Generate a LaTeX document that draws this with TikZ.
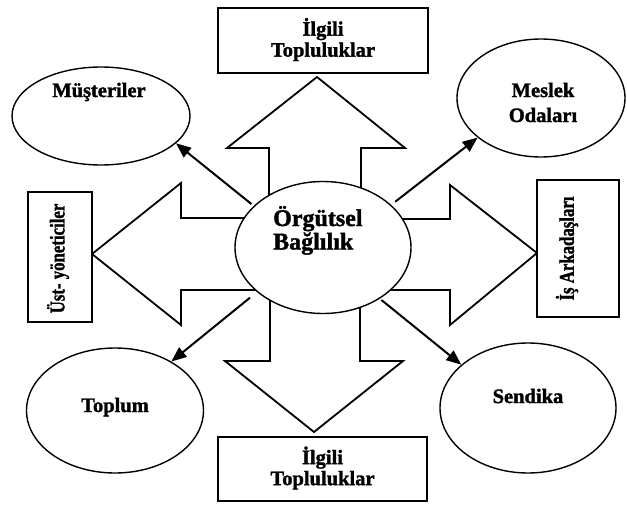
\documentclass[tikz,border=0pt]{standalone}
\usepackage{fontspec}
\setmainfont{Liberation Serif}[BoldFeatures={FakeBold=1.5}]
\usetikzlibrary{arrows.meta,shapes.geometric}
\begin{document}
\begin{tikzpicture}[x=1pt,y=-1pt,
  blockarrow/.style={draw=black,line width=1.8pt,line join=miter,fill=white},
  oval/.style={draw=black,ellipse,line width=1.4pt,fill=white,inner sep=0pt},
  box/.style={draw=black,rectangle,line width=1.6pt,fill=white,inner sep=0pt},
  lbl/.style={font=\fontsize{20.5}{21}\selectfont\bfseries,inner sep=0pt},
  vlbl/.style={font=\fontsize{21}{21}\selectfont\bfseries,inner sep=0pt,rotate=90},
  conn/.style={line width=2pt,-{Triangle[length=15pt,width=12pt]}},
]
\useasboundingbox (0,0) rectangle (627,506);
\fill[white] (0,0) rectangle (627,506);

% block arrows
\draw[blockarrow] (317,77) -- (405,148) -- (361,148) -- (361,248) -- (269,248) -- (269,148) -- (227,148) -- cycle;
\draw[blockarrow] (314,432) -- (403,361) -- (360,361) -- (360,248) -- (270,248) -- (270,361) -- (225,361) -- cycle;
\draw[blockarrow] (92,254) -- (181,183) -- (181,218) -- (323,218) -- (323,290) -- (181,290) -- (181,325) -- cycle;
\draw[blockarrow] (537,253) -- (450,185) -- (450,219) -- (323,219) -- (323,290) -- (450,290) -- (450,325) -- cycle;

% central ellipse
\node[oval,minimum width=176pt,minimum height=132pt] (org) at (323,247.5) {};
\node[anchor=base west,inner sep=0pt,font=\fontsize{24}{22}\selectfont\bfseries] (torg) at (273,226)
  {\begin{tabular}[t]{@{}l@{}}\bfseries Örgütsel\\\bfseries Bağlılık\end{tabular}};

% outer ellipses
\node[oval,minimum width=178pt,minimum height=98pt] (must) at (101,116) {};
\node[lbl,anchor=base] (tmust) at (99,97) {Müşteriler};
\node[oval,minimum width=168pt,minimum height=118pt] (mes) at (541,98) {};
\node[anchor=base,inner sep=0pt,font=\fontsize{20.5}{25}\selectfont\bfseries] (tmes) at (543,97)
  {\begin{tabular}[t]{@{}c@{}}\bfseries Meslek\\\bfseries Odaları\end{tabular}};
\node[oval,minimum width=177pt,minimum height=125pt] (topl) at (115,410.5) {};
\node[lbl,anchor=base] (ttopl) at (115,412) {Toplum};
\node[oval,minimum width=176pt,minimum height=130pt] (send) at (528,408) {};
\node[lbl,anchor=base] (tsend) at (528,403) {Sendika};

% boxes
\node[box,minimum width=210pt,minimum height=65pt,font=\fontsize{20.5}{21}\selectfont\bfseries] (topbox) at (323,40.5)
  {\begin{tabular}{@{}c@{}}\bfseries İlgili\\\bfseries Topluluklar\end{tabular}};
\node[box,minimum width=209pt,minimum height=64pt,font=\fontsize{20.5}{21}\selectfont\bfseries] (botbox) at (322.5,469)
  {\begin{tabular}{@{}c@{}}\bfseries İlgili\\\bfseries Topluluklar\end{tabular}};
\node[box,minimum width=64pt,minimum height=130pt] (lbox) at (60,257) {};
\node[vlbl] (tlbox) at (58,258.5) {\scalebox{0.8}[1]{Üst- yöneticiler}};
\node[box,minimum width=82pt,minimum height=137pt] (rbox) at (578,248.5) {};
\node[vlbl] (trbox) at (567,248.5) {\scalebox{0.8}[1]{İş Arkadaşları}};

% connectors
\draw[conn,shorten <=3pt] (org.149) -- (must.-20);
\draw[conn,shorten <=5pt] (org.32) -- (mes.-148);
\draw[conn,shorten <=9pt] (org.214) -- (topl.41);
\draw[conn,shorten <=2pt] (org.-42) -- (send.147);
\end{tikzpicture}
\end{document}
